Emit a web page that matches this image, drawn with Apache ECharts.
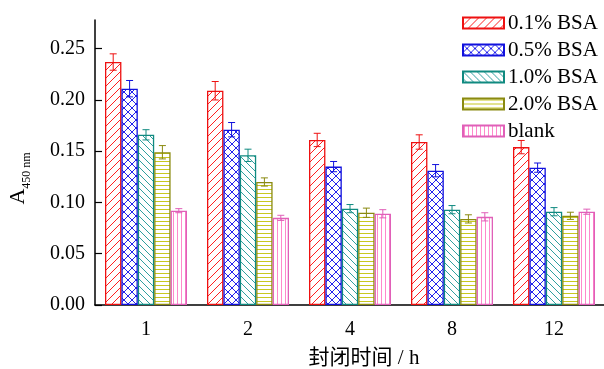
<!DOCTYPE html>
<html><head><meta charset="utf-8">
<script src="https://cdn.jsdelivr.net/npm/echarts@6/dist/echarts.min.js"></script>
<style>html,body{margin:0;padding:0;background:#fff}#c{width:604px;height:369px}</style>
</head><body><div id="c"></div>
<script>
const categories = ['1', '2', '4', '8', '12'];
const seriesNames = ['0.1% BSA', '0.5% BSA', '1.0% BSA', '2.0% BSA', 'blank'];
const bsa01 = [0.237, 0.209, 0.161, 0.159, 0.154];
const bsa05 = [0.211, 0.171, 0.135, 0.131, 0.134];
const bsa10 = [0.166, 0.146, 0.094, 0.093, 0.091];
const bsa20 = [0.149, 0.120, 0.090, 0.084, 0.087];
const blank = [0.092, 0.085, 0.089, 0.086, 0.091];
const err01 = [0.008, 0.009, 0.0065, 0.007, 0.0065];
const err05 = [0.008, 0.007, 0.005, 0.006, 0.0045];
const err10 = [0.005, 0.006, 0.004, 0.004, 0.004];
const err20 = [0.0065, 0.004, 0.0045, 0.004, 0.0035];
const errBlank = [0.002, 0.0025, 0.004, 0.004, 0.0025];
const yTicks = [0, 0.05, 0.10, 0.15, 0.20, 0.25];

const values = [bsa01, bsa05, bsa10, bsa20, blank];
const errs = [err01, err05, err10, err20, errBlank];

const borderColors = ['#ee1111', '#1111dd', '#108a80', '#8a8a10', '#e060b8'];
const lineColors = ['#ff2020', '#2222ee', '#30a0a0', '#c8c820', '#ff88cc'];
const kinds = ['fslash', 'cross', 'bslash', 'horiz', 'vert'];

function makePattern(kind, color) {
  const c = document.createElement('canvas');
  let w = 8, h = 8;
  if (kind === 'horiz') { w = 4; h = 4; }
  if (kind === 'vert') { w = 4; h = 4; }
  if (kind === 'bslash') { w = 7; h = 7; }
  c.width = w; c.height = h;
  const ctx = c.getContext('2d');
  ctx.fillStyle = '#fff';
  ctx.fillRect(0, 0, w, h);
  ctx.strokeStyle = color;
  ctx.lineWidth = 1;
  ctx.beginPath();
  if (kind === 'fslash' || kind === 'cross') {
    ctx.moveTo(-1, h + 1); ctx.lineTo(w + 1, -1);
    ctx.moveTo(-2, 1); ctx.lineTo(1, -2);
    ctx.moveTo(w - 1, h + 2); ctx.lineTo(w + 2, h - 1);
  }
  if (kind === 'bslash' || kind === 'cross') {
    ctx.moveTo(-1, -1); ctx.lineTo(w + 1, h + 1);
    ctx.moveTo(-2, h - 1); ctx.lineTo(1, h + 2);
    ctx.moveTo(w - 1, -2); ctx.lineTo(w + 2, 1);
  }
  if (kind === 'horiz') { ctx.moveTo(0, 1.5); ctx.lineTo(w, 1.5); }
  if (kind === 'vert') { ctx.moveTo(1.5, 0); ctx.lineTo(1.5, h); }
  ctx.stroke();
  return { image: c, repeat: 'repeat' };
}

const BAR_W = 16.4;
const font = '"Liberation Serif", "Times New Roman", serif';

const series = [];
seriesNames.forEach((name, i) => {
  series.push({
    name: name,
    type: 'bar',
    data: values[i],
    barWidth: BAR_W,
    barGap: '0%',
    itemStyle: { color: makePattern(kinds[i], lineColors[i]), borderColor: borderColors[i], borderWidth: 1.3 },
    emphasis: { disabled: true }
  });
});
seriesNames.forEach((name, i) => {
  series.push({
    type: 'custom',
    silent: true,
    z: 5,
    data: values[i].map((v, k) => [k, v, errs[i][k]]),
    renderItem: function (params, api) {
      const k = api.value(0), v = api.value(1), e = api.value(2);
      const off = (i - 2) * BAR_W;
      const pTop = api.coord([k, v + e]);
      const pBot = api.coord([k, v - e]);
      const x = pTop[0] + off;
      const cw = 3.5;
      const st = { stroke: borderColors[i], lineWidth: 1 };
      return {
        type: 'group',
        children: [
          { type: 'line', shape: { x1: x, y1: pTop[1], x2: x, y2: pBot[1] }, style: st },
          { type: 'line', shape: { x1: x - cw, y1: pTop[1], x2: x + cw, y2: pTop[1] }, style: st },
          { type: 'line', shape: { x1: x - cw, y1: pBot[1], x2: x + cw, y2: pBot[1] }, style: st }
        ]
      };
    }
  });
});

const chart = echarts.init(document.getElementById('c'), null, { renderer: 'canvas' });
chart.setOption({
  animation: false,
  backgroundColor: '#fff',
  grid: { left: 95, right: -1, top: 20, bottom: 64, containLabel: false, outerBoundsMode: 'none' },
  legend: {
    orient: 'vertical',
    left: 462, top: 12,
    padding: 0,
    itemWidth: 41, itemHeight: 11,
    itemGap: 5,
    icon: 'rect',
    data: seriesNames,
    textStyle: { fontFamily: font, fontSize: 21, color: '#000', lineHeight: 22, padding: [0, 0, 0, -1] }
  },
  xAxis: {
    type: 'category',
    data: categories,
    axisLine: { lineStyle: { color: '#000', width: 1.5 } },
    axisTick: { inside: true, alignWithLabel: true, length: 7, lineStyle: { color: '#000', width: 1.2 } },
    axisLabel: { fontFamily: font, fontSize: 20, color: '#000', margin: 15 },
    name: '封闭时间 / h',
    nameLocation: 'middle',
    nameGap: 43,
    nameTextStyle: { fontFamily: '"Liberation Serif", "Noto Sans CJK SC", serif', fontSize: 21, color: '#000', padding: [0, 0, 0, 28] }
  },
  yAxis: {
    type: 'value',
    min: 0, max: 0.278,
    interval: 0.05,
    splitLine: { show: false },
    axisLine: { show: true, lineStyle: { color: '#000', width: 1.5 } },
    axisTick: { show: true, inside: true, length: 7, lineStyle: { color: '#000', width: 1.2 }, customValues: yTicks },
    axisLabel: { fontFamily: font, fontSize: 20, color: '#000', margin: 10, customValues: yTicks, formatter: v => v.toFixed(2) },
    name: '{a|A}{s|450 nm}',
    nameLocation: 'middle',
    nameRotate: 90,
    nameGap: 66,
    nameTextStyle: {
      padding: [0, 32, 0, 0],
      rich: {
        a: { fontFamily: font, fontSize: 22, color: '#000', verticalAlign: 'bottom', lineHeight: 24 },
        s: { fontFamily: font, fontSize: 12, color: '#000', verticalAlign: 'bottom', lineHeight: 24, padding: [0, 0, -4, 0] }
      }
    }
  },
  series: series
});
</script>
</body></html>
